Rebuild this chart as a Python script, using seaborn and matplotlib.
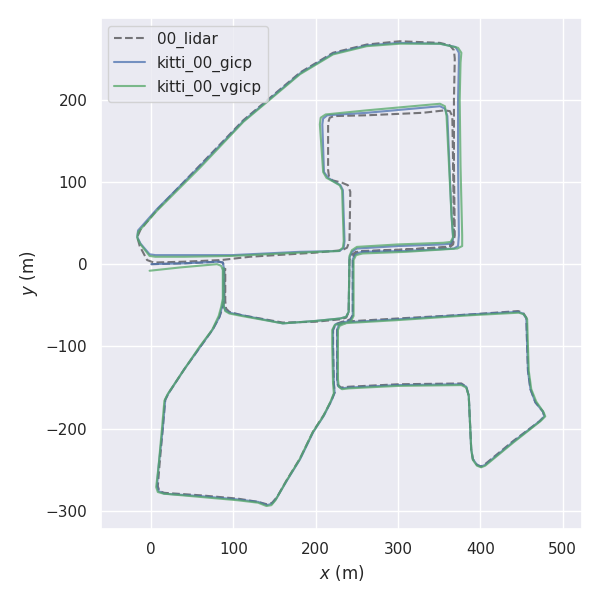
import numpy as np
import pandas as pd
import matplotlib
matplotlib.use("Agg")
import matplotlib.pyplot as plt
import seaborn as sns

# trajectory waypoints (x, y) in metres
lidar = [
    (0, 0), (40, 1), (82, 3), (87, 2), (89, -3), (89, -42), (87, -52),
    (83, -64), (75, -79), (60, -100), (40, -128), (21, -157), (17, -165),
    (14, -200), (10, -245), (8, -270), (10, -276), (16, -278), (60, -281),
    (105, -285), (130, -289), (141, -292), (147, -290), (153, -283),
    (165, -262), (181, -236), (197, -203), (210, -183), (219, -166), (223, -156),
    (222, -145), (221, -100), (221, -80), (224, -73), (232, -70),
    (300, -66), (390, -61), (446, -57), (452, -59), (456, -65), (457, -100),
    (458, -130), (461, -152), (467, -168), (476, -179), (478, -185), (472, -191),
    (440, -215), (406, -243), (401, -246), (396, -244), (391, -237), (389, -225),
    (386, -160), (383, -149), (377, -145), (300, -146), (240, -149), (231, -150),
    (227, -147), (226, -140), (226, -80), (228, -73), (234, -70), (242, -67),
    (245, -62), (245, 8), (248, 14), (256, 16), (310, 18), (362, 20), (367, 24),
    (369, 35), (368, 120), (368, 200), (369, 250), (368, 260), (363, 266),
    (351, 269), (302, 271), (262, 267), (221, 257), (181, 233), (112, 175),
    (60, 121), (7, 66), (-13, 42), (-17, 33), (-14, 22), (-5, 5), (3, 2),
    (40, 3), (85, 5), (120, 9), (200, 14), (232, 17), (238, 20), (241, 28),
    (242, 88), (239, 96), (232, 99), (220, 102), (216, 107), (215, 115),
    (215, 172), (217, 178), (222, 180), (262, 181), (330, 184), (357, 187),
    (363, 186), (366, 180), (367, 120), (368, 35), (365, 24), (358, 21),
    (300, 17), (250, 15), (244, 12), (241, 5), (240, -58), (237, -65),
    (230, -67), (200, -70), (160, -71), (110, -62), (95, -58), (91, -54),
    (90, -45), (90, -5),
]

gicp = [
    (0, 0), (40, 1), (82, 3), (87, 2), (88, -3), (88, -42), (86, -52),
    (83, -64), (75, -79), (60, -100), (40, -128), (21, -157), (17, -165),
    (14, -200), (9, -245), (7, -270), (9, -276), (16, -279), (60, -282),
    (105, -286), (130, -289), (141, -293), (147, -291), (152, -285),
    (165, -263), (181, -237), (197, -204), (210, -184), (219, -166), (223, -156),
    (222, -145), (221, -100), (221, -80), (224, -73), (232, -71),
    (300, -67), (390, -61), (446, -58), (452, -60), (456, -66), (457, -100),
    (458, -130), (461, -152), (467, -168), (476, -179), (478, -185), (472, -191),
    (440, -216), (406, -244), (401, -246), (396, -244), (391, -237), (389, -225),
    (386, -160), (383, -149), (377, -146), (300, -147), (240, -150), (231, -151),
    (227, -148), (226, -140), (226, -80), (228, -74), (235, -71), (242, -68),
    (245, -62), (245, 6), (248, 12), (256, 15), (310, 16), (368, 19), (373, 22),
    (374, 35), (373, 120), (373, 200), (374, 245), (374, 257), (370, 264),
    (351, 268), (302, 269), (262, 266), (221, 256), (181, 232), (112, 174),
    (60, 120), (7, 67), (-16, 41), (-17, 33), (-13, 25), (-2, 12), (5, 11),
    (40, 11), (98, 11), (180, 15), (229, 16), (234, 20), (235, 28),
    (233, 90), (230, 96), (223, 100), (215, 105), (210, 112), (208, 170),
    (209, 177), (214, 181), (262, 184), (351, 192), (357, 189), (360, 180),
    (365, 60), (367, 31), (364, 25), (355, 24), (300, 22), (250, 19), (244, 15),
    (241, 8), (240, -58), (237, -64), (230, -66), (200, -69), (160, -72),
    (110, -62), (95, -59), (90, -56), (88, -50), (88, -5),
]

vgicp = [
    (-2, -8), (35, -4), (80, 0), (85, -2), (87, -7), (87, -42), (85, -52),
    (82, -63), (74, -80), (59, -100), (40, -128), (20, -158), (16, -166),
    (13, -200), (9, -245), (6, -271), (8, -277), (15, -279), (60, -283),
    (105, -287), (130, -290), (140, -294), (146, -293), (151, -287),
    (164, -264), (180, -238), (196, -205), (209, -185), (218, -167), (222, -157),
    (221, -145), (220, -100), (220, -80), (223, -74), (231, -72),
    (300, -68), (390, -62), (447, -59), (453, -61), (457, -67), (458, -100),
    (459, -130), (462, -152), (468, -167), (477, -180), (479, -185), (473, -191),
    (440, -217), (406, -245), (401, -247), (396, -245), (391, -238), (389, -225),
    (386, -160), (383, -150), (377, -147), (300, -148), (240, -151), (232, -152),
    (228, -149), (227, -140), (227, -80), (229, -75), (236, -72), (243, -69),
    (246, -63), (246, 5), (249, 11), (257, 13), (310, 15), (372, 19), (378, 22),
    (378, 35), (376, 120), (375, 200), (376, 245), (377, 257), (373, 263),
    (351, 268), (302, 268), (262, 265), (221, 255), (181, 231), (112, 173),
    (60, 118), (7, 65), (-16, 39), (-17, 32), (-13, 24), (-2, 10), (5, 9),
    (40, 9), (98, 10), (180, 14), (228, 16), (233, 20), (234, 28),
    (232, 90), (229, 96), (222, 100), (213, 105), (209, 112), (205, 170),
    (206, 178), (212, 182), (262, 187), (351, 195), (357, 192), (359, 180),
    (365, 60), (367, 33), (364, 27), (355, 26), (300, 24), (250, 21), (244, 17),
    (241, 10), (240, -58), (237, -64), (230, -66), (200, -69), (160, -72),
    (110, -63), (95, -60), (90, -57), (88, -50), (88, -5),
]

names = ["00_lidar", "kitti_00_gicp", "kitti_00_vgicp"]

sns.set_theme(style="darkgrid", palette="deep", font="sans-serif")
pal = sns.color_palette("deep")

fig = plt.figure(figsize=(6, 6.01), dpi=100)
ax = fig.add_subplot(111)

df = pd.DataFrame(lidar, columns=["x", "y"])
sns.lineplot(data=df, x="x", y="y", sort=False, estimator=None, ax=ax,
             color="black", linestyle="--", alpha=0.5, linewidth=1.5, label=names[0])
df = pd.DataFrame(gicp, columns=["x", "y"])
sns.lineplot(data=df, x="x", y="y", sort=False, estimator=None, ax=ax,
             color=pal[0], alpha=0.75, linewidth=1.5, label=names[1])
df = pd.DataFrame(vgicp, columns=["x", "y"])
sns.lineplot(data=df, x="x", y="y", sort=False, estimator=None, ax=ax,
             color=pal[2], alpha=0.75, linewidth=1.5, label=names[2])

ax.axis("equal")
ax.set_xlabel("$x$ (m)")
ax.set_ylabel("$y$ (m)")
ax.legend(loc="upper left")
fig.tight_layout()
fig.savefig("out.png", dpi=100)
